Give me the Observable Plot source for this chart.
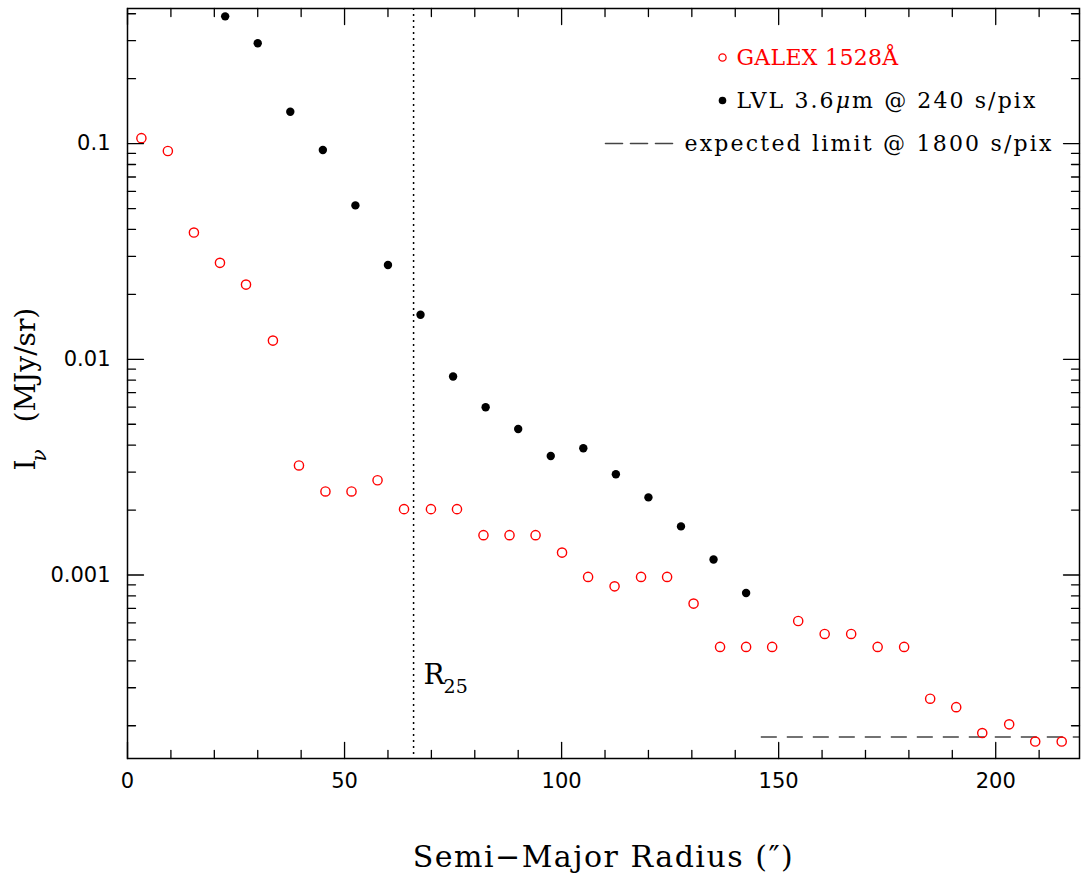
<!DOCTYPE html>
<html>
<head>
<meta charset="utf-8">
<script src="https://cdn.jsdelivr.net/npm/d3@7"></script>
<script src="https://cdn.jsdelivr.net/npm/@observablehq/plot@0.6"></script>
<style>
  html, body { margin: 0; padding: 0; background: white; }
  #chart { width: 1081px; height: 876px; }
</style>
</head>
<body>
<div id="chart"></div>
<script>
// ---- data ----
const galexRadius = [3.2, 9.3, 15.3, 21.3, 27.3, 33.5, 39.5, 45.6, 51.6, 57.6, 63.7, 69.9, 75.9, 82.0, 88.0, 94.0, 100.1, 106.1, 112.2, 118.3, 124.3, 130.4, 136.5, 142.5, 148.5, 154.5, 160.6, 166.7, 172.8, 178.9, 184.9, 190.9, 196.9, 203.1, 209.1, 215.2];
const galexIntensity = [0.106, 0.0924, 0.0387, 0.0280, 0.0222, 0.01221, 0.00322, 0.00244, 0.00244, 0.00275, 0.00202, 0.00202, 0.00202, 0.00153, 0.00153, 0.00153, 0.00127, 0.00098, 0.000886, 0.00098, 0.00098, 0.000737, 0.000464, 0.000464, 0.000464, 0.000612, 0.000533, 0.000533, 0.000464, 0.000464, 0.000267, 0.000244, 0.000185, 0.000203, 0.000169, 0.000169];
const lvlRadius = [22.5, 30, 37.5, 45, 52.5, 60, 67.5, 75, 82.5, 90, 97.5, 105, 112.5, 120, 127.5, 135, 142.5];
const lvlIntensity = [0.389, 0.292, 0.1406, 0.0934, 0.0517, 0.02735, 0.0161, 0.00832, 0.00599, 0.00475, 0.00356, 0.00387, 0.00293, 0.00229, 0.00168, 0.00118, 0.000825];
const limitIntensity = 0.0001775;
const limitStartRadius = 146;
const r25Radius = 65.9;

const xDomain = [0, 219.3];
const yDomain = [0.000141, 0.423];
const xMajorTicks = [0, 50, 100, 150, 200];
const xMinorTicks = [10, 20, 30, 40, 60, 70, 80, 90, 110, 120, 130, 140, 160, 170, 180, 190, 210];
const yMajorTicks = [0.001, 0.01, 0.1];
const yMinorTicks = [];
for (const p of [1e-4, 1e-3, 1e-2, 1e-1]) for (let m = 2; m <= 9; m++) {
  const v = +(m * p).toPrecision(3);
  if (v > yDomain[0] && v < yDomain[1]) yMinorTicks.push(v);
}

const legendLabels = ["GALEX 1528Å", "LVL 3.6μm @ 240 s/pix", "expected limit @ 1800 s/pix"];
const xTitle = "Semi\u2212Major Radius (\u2033)";

const galex = galexRadius.map((r, i) => ({radius: r, intensity: galexIntensity[i]}));
const lvl = lvlRadius.map((r, i) => ({radius: r, intensity: lvlIntensity[i]}));

// ---- helpers ----
const tickShape = {draw(ctx, l) { ctx.moveTo(0, 0); ctx.lineTo(0, -l); }};
const serif = "DejaVu Serif";
const sans = "DejaVu Sans";
const tickStroke = {stroke: "black", strokeWidth: 1.3, shape: tickShape, anchor: "start"};

function xTicks(values, len) {
  return [
    Plot.vectorX(values, {x: d => d, frameAnchor: "bottom", length: len, rotate: 0, ...tickStroke}),
    Plot.vectorX(values, {x: d => d, frameAnchor: "top", length: len, rotate: 180, ...tickStroke})
  ];
}
function yTicks(values, len) {
  return [
    Plot.vectorY(values, {y: d => d, frameAnchor: "left", length: len, rotate: 90, ...tickStroke}),
    Plot.vectorY(values, {y: d => d, frameAnchor: "right", length: len, rotate: -90, ...tickStroke})
  ];
}

const chart = Plot.plot({
  width: 1081,
  height: 876,
  marginLeft: 127,
  marginRight: 2,
  marginTop: 8,
  marginBottom: 118,
  x: {domain: xDomain, label: null},
  y: {type: "log", domain: yDomain, label: null},
  marks: [
    Plot.ruleX([r25Radius], {x: d => d, stroke: "black", strokeWidth: 1.5, strokeDasharray: "2,4"}),
    Plot.ruleY([limitIntensity], {y: d => d, x1: limitStartRadius, x2: xDomain[1], stroke: "#444", strokeWidth: 1.6, strokeDasharray: "16,10"}),
    Plot.dot(galex, {x: "radius", y: "intensity", r: 4.6, stroke: "#ff0000", strokeWidth: 1.4, fill: "none"}),
    Plot.dot(lvl, {x: "radius", y: "intensity", r: 4.2, fill: "black", stroke: "none"}),
    Plot.frame({stroke: "black", strokeWidth: 1.5}),
    ...xTicks(xMajorTicks, 16), ...xTicks(xMinorTicks, 8),
    ...yTicks(yMajorTicks, 16), ...yTicks(yMinorTicks, 8),
    Plot.axisX(xMajorTicks, {anchor: "bottom", tickSize: 0, tickPadding: 15, label: null, fontSize: 21, fontFamily: sans, fill: "black"}),
    Plot.axisY(yMajorTicks, {anchor: "left", tickSize: 0, tickPadding: 17, label: null, tickFormat: d => String(d), fontSize: 21, fontFamily: sans, fill: "black"}),
    Plot.text([r25Radius], {x: d => d, text: () => "R", frameAnchor: "bottom", dx: 10, dy: -75, textAnchor: "start", lineAnchor: "bottom", fontSize: 28, fontFamily: serif, fill: "black"}),
    Plot.text([r25Radius], {x: d => d, text: () => "25", frameAnchor: "bottom", dx: 30, dy: -66, textAnchor: "start", lineAnchor: "bottom", fontSize: 19, fontFamily: serif, fill: "black"}),
    Plot.text([xTitle], {text: d => d, frameAnchor: "bottom", dy: 108, lineAnchor: "bottom", textAnchor: "middle", fontSize: 30, fontFamily: serif, fill: "black"}),
    Plot.text(["I"], {text: d => d, frameAnchor: "top-left", dx: -93, dy: 462, rotate: -90, textAnchor: "start", lineAnchor: "bottom", fontSize: 28, fontFamily: serif, fill: "black"}),
    Plot.text(["ν"], {text: d => d, frameAnchor: "top-left", dx: -82, dy: 453, rotate: -90, textAnchor: "start", lineAnchor: "bottom", fontSize: 20, fontStyle: "italic", fontFamily: serif, fill: "black"}),
    Plot.text(["(MJy/sr)"], {text: d => d, frameAnchor: "top-left", dx: -93, dy: 414, rotate: -90, textAnchor: "start", lineAnchor: "bottom", fontSize: 28, fontFamily: serif, fill: "black"}),
    Plot.dot([0], {frameAnchor: "top-left", dx: 595, dy: 49, r: 3.6, stroke: "#ff0000", strokeWidth: 1.3, fill: "none"}),
    Plot.dot([0], {frameAnchor: "top-left", dx: 595, dy: 92, r: 3.8, fill: "black"}),
    Plot.vector([0], {frameAnchor: "top-left", dx: 478, dy: 135, rotate: 90, length: 67, shape: tickShape, anchor: "start", stroke: "#444", strokeWidth: 1.6, strokeDasharray: "17,8"}),
    Plot.text([legendLabels[0]], {text: d => d, frameAnchor: "top-left", dx: 609, dy: 49, textAnchor: "start", lineAnchor: "middle", fontSize: 22, fontFamily: serif, fill: "#ff0000"}),
    Plot.text([legendLabels[1]], {text: d => d, frameAnchor: "top-left", dx: 609, dy: 92, textAnchor: "start", lineAnchor: "middle", fontSize: 22, fontFamily: serif, fill: "black"}),
    Plot.text([legendLabels[2]], {text: d => d, frameAnchor: "top-left", dx: 557, dy: 135, textAnchor: "start", lineAnchor: "middle", fontSize: 22, fontFamily: serif, fill: "black"})
  ]
});

// spacing tweaks to approximate the wide plotting font of the original
const spacing = new Map([
  [legendLabels[0], "0.3px"],
  [legendLabels[1], "2.1px"],
  [legendLabels[2], "2.2px"],
  [xTitle, "1.5px"]
]);
d3.select(chart).selectAll("text").each(function () {
  const t = this.textContent;
  if (spacing.has(t)) this.style.letterSpacing = spacing.get(t);
  if (t === legendLabels[1]) {
    const sel = d3.select(this);
    const [pre, post] = t.split("μ");
    sel.text(null);
    sel.append("tspan").text(pre);
    sel.append("tspan").attr("font-style", "italic").text("μ");
    sel.append("tspan").text(post);
  }
});
document.getElementById("chart").appendChild(chart);
</script>
</body>
</html>
